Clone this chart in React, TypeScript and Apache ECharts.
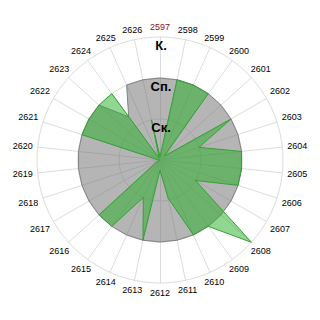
import React, { useEffect, useRef } from "react";
import * as echarts from "echarts";

const categories: string[] = [
  "2597", "2598", "2599", "2600", "2601", "2602", "2603", "2604", "2605", "2606",
  "2607", "2608", "2609", "2610", "2611", "2612", "2613", "2614", "2615", "2616",
  "2617", "2618", "2619", "2620", "2621", "2622", "2623", "2624", "2625", "2626",
];

// level values: 1 = Ск., 2 = Сп., 3 = К.
const greenValues: number[] = [
  0.08, 2, 2, 2, 0.15, 2, 1.0, 2, 2, 2,
  1.0, 3, 2, 2, 0.95, 0.25, 2, 1.0, 2, 2,
  0.1, 0, 0, 0.05, 2, 2, 2, 2, 0.05, 1.0,
];

const grayValues: number[] = [
  2, 2, 2, 2, 2, 2, 2, 2, 2, 2,
  2, 2, 2, 2, 2, 2, 2, 2, 2, 2,
  2, 2, 2, 2, 2, 2, 2, 1.3, 2, 2,
];

const levelLabels: string[] = ["Ск.", "Сп.", "К."];
const maxLevel = 3;

// radar places indicators counter-clockwise, so reorder for clockwise layout
function clockwise<T>(arr: T[]): T[] {
  return [arr[0], ...arr.slice(1).reverse()];
}

export default function App() {
  const ref = useRef<HTMLDivElement>(null);
  useEffect(() => {
    if (!ref.current) return;
    const chart = echarts.init(ref.current, undefined, { renderer: "svg" });
    const font = "'Liberation Sans', Arial, sans-serif";
    const indicators = clockwise(categories).map((c) => ({
      name: c,
      max: maxLevel,
      min: 0,
    }));
    const cx = 160;
    const cy = 160;
    const R = 123;
    const n = categories.length;
    const nameTexts = categories.map((c, i) => {
      const a = (i * 2 * Math.PI) / n;
      const sx = Math.sin(a);
      const sy = -Math.cos(a);
      const hw = 10.5;
      const hh = 5.5;
      const ext = Math.min(
        Math.abs(sx) > 1e-6 ? hw / Math.abs(sx) : 1e9,
        Math.abs(sy) > 1e-6 ? hh / Math.abs(sy) : 1e9
      );
      const r = R + 4.5 + ext;
      return {
        type: "text",
        x: cx + r * sx,
        y: cy + r * sy,
        silent: true,
        style: {
          text: c,
          fontSize: 9,
          fontFamily: font,
          fill: i === 0 ? "#8b1010" : "#000",
          textAlign: "center",
          textVerticalAlign: "middle",
        },
      };
    });
    const levelTexts = levelLabels.map((t, i) => ({
      type: "text",
      x: cx + 1,
      y: cy - (R * (i + 1)) / maxLevel + 8,
      z: 100,
      silent: true,
      style: {
        text: t,
        fontSize: 13,
        fontWeight: "bold",
        fontFamily: font,
        fill: "#000",
        textAlign: "center",
        textVerticalAlign: "middle",
      },
    }));
    chart.setOption({
      animation: false,
      radar: {
        center: [cx, cy],
        radius: R,
        startAngle: 90,
        shape: "circle",
        splitNumber: maxLevel,
        indicator: indicators,
        axisName: { show: false },
        axisLine: { lineStyle: { color: "#dcdcdc", width: 1 } },
        splitLine: { lineStyle: { color: "#dcdcdc", width: 1 } },
        splitArea: { show: false },
        axisTick: { show: false },
        axisLabel: { show: false },
      },
      series: [
        {
          type: "radar",
          symbol: "none",
          silent: true,
          data: [
            {
              value: clockwise(grayValues),
              lineStyle: { color: "#858585", width: 1 },
              areaStyle: { color: "rgba(120,120,120,0.55)", opacity: 1 },
            },
          ],
        },
        {
          type: "radar",
          symbol: "none",
          silent: true,
          data: [
            {
              value: clockwise(greenValues),
              lineStyle: { color: "#3a9e3a", width: 1 },
              areaStyle: { color: "rgba(36,175,36,0.5)", opacity: 1 },
            },
          ],
        },
      ],
      graphic: [...nameTexts, ...levelTexts],
    });
    return () => chart.dispose();
  }, []);
  return (
    <div
      ref={ref}
      style={{ position: "fixed", left: 0, top: 0, width: 320, height: 320, background: "#fff" }}
    />
  );
}
